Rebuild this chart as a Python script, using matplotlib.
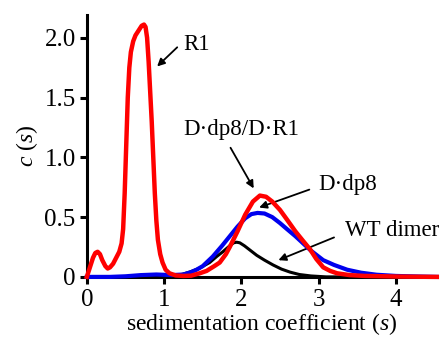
import matplotlib
matplotlib.use("Agg")
import matplotlib.pyplot as plt

plt.rcParams["font.family"] = ["Liberation Serif", "DejaVu Serif"]
plt.rcParams["mathtext.fontset"] = "custom"
plt.rcParams["mathtext.rm"] = "Liberation Serif"
plt.rcParams["mathtext.it"] = "Liberation Serif:italic"

# red: R1 and D.dp8/D.R1 trace
red_s = [0.0, 0.04, 0.08, 0.11, 0.14, 0.17, 0.2, 0.24, 0.27, 0.3, 0.34, 0.38, 0.42,
         0.45, 0.47, 0.49, 0.51, 0.53, 0.55, 0.57, 0.6, 0.63, 0.67, 0.71, 0.74,
         0.76, 0.78, 0.8, 0.82, 0.84, 0.86, 0.88, 0.9, 0.92, 0.95, 0.98, 1.02,
         1.07, 1.15, 1.25, 1.35, 1.46, 1.55, 1.65, 1.72, 1.8, 1.85, 1.95, 2.05,
         2.15, 2.24, 2.32, 2.4, 2.5, 2.59, 2.7, 2.8, 2.89, 2.97, 3.06, 3.15, 3.24,
         3.4, 3.6, 4.0, 4.53]
red_c = [0.0, 0.08, 0.16, 0.2, 0.21, 0.19, 0.14, 0.09, 0.07, 0.08, 0.11, 0.16, 0.21,
         0.28, 0.4, 0.7, 1.1, 1.5, 1.75, 1.88, 1.97, 2.02, 2.06, 2.1, 2.11,
         2.09, 2.0, 1.8, 1.55, 1.3, 1.0, 0.7, 0.47, 0.31, 0.19, 0.12, 0.06,
         0.03, 0.012, 0.008, 0.01, 0.03, 0.05, 0.09, 0.12, 0.19, 0.25, 0.38, 0.52,
         0.63, 0.68, 0.67, 0.63, 0.56, 0.48, 0.38, 0.3, 0.23, 0.15, 0.08, 0.05, 0.03,
         0.015, 0.008, 0.003, 0.0]

# blue: D.dp8
blue_s = [0.0, 0.3, 0.5, 0.7, 0.9, 1.1, 1.25, 1.35, 1.42, 1.5, 1.63, 1.75, 1.85,
          1.95, 2.05, 2.13, 2.21, 2.3, 2.4, 2.5, 2.59, 2.7, 2.8, 2.9, 3.06, 3.2,
          3.37, 3.55, 3.75, 4.0, 4.3, 4.53]
blue_c = [0.0, 0.0, 0.005, 0.015, 0.02, 0.015, 0.02, 0.04, 0.06, 0.09, 0.17, 0.26, 0.34,
          0.42, 0.49, 0.525, 0.535, 0.53, 0.5, 0.45, 0.4, 0.34, 0.28, 0.22, 0.14, 0.1,
          0.06, 0.035, 0.018, 0.008, 0.003, 0.0]

# black: WT dimer
black_s = [0.0, 0.5, 1.0, 1.2, 1.33, 1.45, 1.59, 1.68, 1.76, 1.85, 1.9, 1.94, 1.98,
           2.04, 2.1, 2.2, 2.3, 2.41, 2.52, 2.63, 2.75, 2.9, 3.1, 4.53]
black_c = [0.0, 0.0, 0.005, 0.015, 0.04, 0.07, 0.12, 0.17, 0.21, 0.26, 0.285, 0.29, 0.285,
           0.26, 0.23, 0.18, 0.14, 0.1, 0.065, 0.04, 0.02, 0.008, 0.0, 0.0]

x_ticks = [0, 1, 2, 3, 4]
y_ticks = [0, 0.5, 1.0, 1.5, 2.0]
y_tick_labels = ["0", "0.5", "1.0", "1.5", "2.0"]

fig = plt.figure(figsize=(4.43, 3.41), dpi=100)
ax = fig.add_axes([0.196, 0.188, 0.79, 0.768])

ax.plot(black_s, black_c, color="black", lw=2.2, clip_on=False, zorder=3,
        solid_joinstyle="round")
ax.plot(blue_s, blue_c, color="#0000ee", lw=3.0, clip_on=False, zorder=4,
        solid_joinstyle="round")
ax.plot(red_s, red_c, color="#ff0000", lw=3.2, clip_on=False, zorder=5,
        solid_joinstyle="round")

ax.set_xlim(0, 4.53)
ax.set_ylim(0, 2.19)
ax.set_xticks(x_ticks)
ax.set_yticks(y_ticks)
ax.set_yticklabels(y_tick_labels)

for side in ["top", "right"]:
    ax.spines[side].set_visible(False)
for side in ["left", "bottom"]:
    ax.spines[side].set_linewidth(2.2)
ax.tick_params(width=2.2, length=5, labelsize=18)
ax.tick_params(axis="x", pad=4)
ax.tick_params(axis="y", pad=3)

ax.set_xlabel("sedimentation coefficient ($s$)", fontsize=17, labelpad=0)
ax.set_ylabel("$c$ ($s$)", fontsize=17, labelpad=3)

arrow = dict(arrowstyle="-|>", color="black", lw=1.3, mutation_scale=11, shrinkA=0, shrinkB=0)
ax.text(1.42, 1.94, "R1", fontsize=16.5, ha="center", va="center")
ax.annotate("", xy=(0.91, 1.76), xytext=(1.17, 1.92), arrowprops=arrow)
ax.text(2.0, 1.23, "D·dp8/D·R1", fontsize=16.5, ha="center", va="center")
ax.annotate("", xy=(2.16, 0.74), xytext=(1.86, 1.08), arrowprops=arrow)
ax.text(3.38, 0.77, "D·dp8", fontsize=16.5, ha="center", va="center")
ax.annotate("", xy=(2.23, 0.58), xytext=(2.88, 0.73), arrowprops=arrow)
ax.text(3.95, 0.385, "WT dimer", fontsize=16.5, ha="center", va="center")
ax.annotate("", xy=(2.48, 0.14), xytext=(3.2, 0.33), arrowprops=arrow)

fig.savefig("out.png", dpi=100)
